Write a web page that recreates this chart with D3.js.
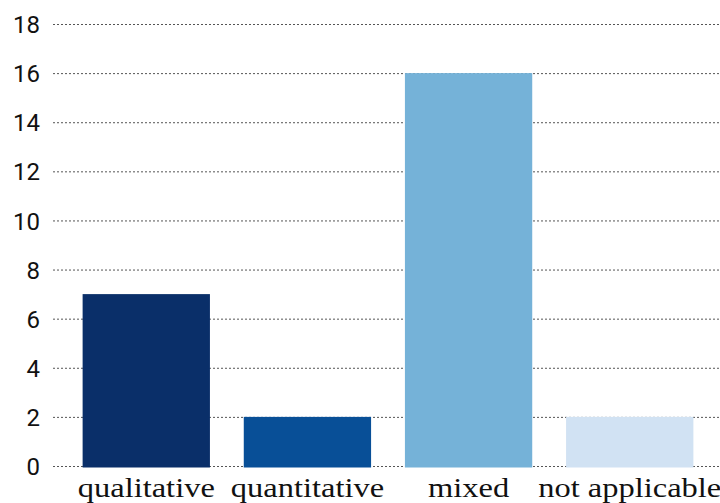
<!DOCTYPE html>
<html>
<head>
<meta charset="utf-8">
<script src="https://cdn.jsdelivr.net/npm/d3@7"></script>
<style>
  html, body { margin: 0; padding: 0; background: #fff; }
  svg { display: block; }
</style>
</head>
<body>
<svg id="chart" width="720" height="503"></svg>
<script>
// Number of studies by method type
const categories = ["qualitative", "quantitative", "mixed", "not applicable"];
const counts = [7, 2, 16, 2];
const barColors = ["#0a2f69", "#084f97", "#75b2d8", "#d1e2f3"];
const yTicks = [0, 2, 4, 6, 8, 10, 12, 14, 16, 18];

const svg = d3.select("#chart");
const width = 720;

const x = d3.scaleBand()
  .domain(categories)
  .range([52, 724])
  .paddingInner(0.21)
  .paddingOuter(0.19);

const y = d3.scaleLinear()
  .domain([0, 18])
  .range([466, 24]);

// Dotted horizontal gridlines
svg.append("g")
  .selectAll("line")
  .data(yTicks)
  .join("line")
  .attr("x1", 53)
  .attr("x2", width)
  .attr("y1", d => y(d) + 0.5)
  .attr("y2", d => y(d) + 0.5)
  .attr("stroke", "#555")
  .attr("stroke-width", 1)
  .attr("stroke-dasharray", "2,2");

// Y axis labels
const yAxis = d3.axisLeft(y).tickValues(yTicks).tickSize(0).tickPadding(0);
svg.append("g")
  .attr("transform", "translate(40,0)")
  .call(yAxis)
  .call(g => g.select(".domain").remove())
  .selectAll("text")
  .attr("font-family", "Roboto, 'Noto Sans', sans-serif")
  .attr("font-size", 24)
  .attr("fill", "#111")
  .attr("dy", "0.36em");

// Bars
svg.append("g")
  .selectAll("rect")
  .data(categories)
  .join("rect")
  .attr("x", d => x(d))
  .attr("width", x.bandwidth())
  .attr("y", (d, i) => y(counts[i]))
  .attr("height", (d, i) => y(0) - y(counts[i]) + 1.5)
  .attr("fill", (d, i) => barColors[i]);

// Category labels (wide serif, stretched horizontally about the tick centre)
const xAxis = d3.axisBottom(x).tickSize(0).tickPadding(0);
svg.append("g")
  .attr("transform", "translate(0,497)")
  .call(xAxis)
  .call(g => g.select(".domain").remove())
  .selectAll("text")
  .attr("dy", 0)
  .attr("transform", "scale(1.16,1)")
  .attr("font-family", "'Liberation Serif', 'DejaVu Serif', serif")
  .attr("font-size", 28)
  .attr("fill", "#111");
</script>
</body>
</html>
